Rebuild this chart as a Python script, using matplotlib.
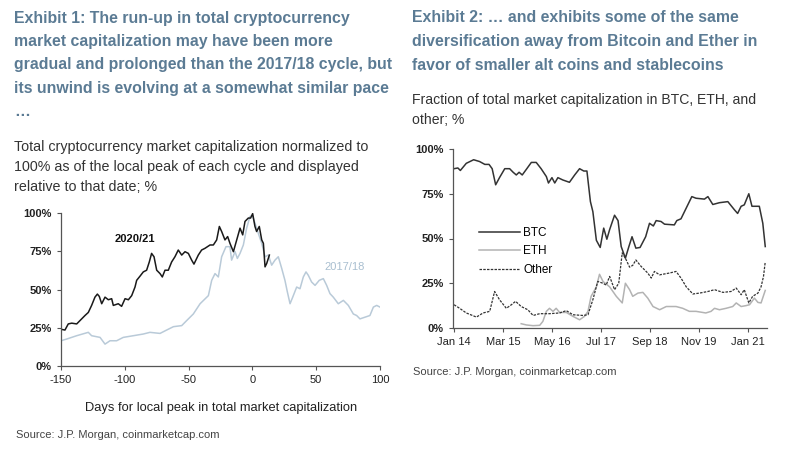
#!/usr/bin/env python3
"""Two-panel crypto market cap exhibit: cycle comparison and dominance shares."""

import matplotlib

matplotlib.use("Agg")
import matplotlib.pyplot as plt

# --- Exhibit 1: days relative to local peak vs normalized market cap (%) ---
days_2021 = [-150, -146.9, -144.3, -141.6, -137.7, -135.1, -131.2, -128.6, -126, -123.4,
             -121.5, -120, -118.1, -115.5, -112.9, -110.3, -109, -105.1, -102.5, -99.8,
             -97.2, -94.6, -92, -90.7, -88.1, -85.5, -82.9, -80.8, -79, -77.1,
             -75, -72.4, -70.6, -68.5, -65.9, -63.3, -60.7, -58.1, -55.4, -52.8,
             -50.2, -47.6, -45.8, -42.4, -39.8, -37.2, -33.2, -30.6, -28, -25.9,
             -24.1, -21.5, -19.4, -17.6, -14.9, -12.3, -9.7, -7.6, -5.8, -3.2,
             -1.4, 0.2, 2, 3.3, 5.4, 7.3, 8.6, 9.9, 11.2, 13.3]
cap_2021 = [24, 23.5, 27.5, 28, 27.5, 29.7, 33, 35, 39.6, 45,
            47, 45.5, 40.7, 45, 43.3, 44, 39.6, 40.7, 39, 44,
            43.3, 46, 51.6, 56, 58.7, 61.5, 62.6, 68, 73.6, 71.4,
            62.6, 60.4, 58.2, 62.6, 62.6, 68, 71.4, 75.8, 72.5, 74.7,
            73.6, 69.2, 66.6, 72.5, 75.8, 76.9, 79.1, 79.1, 82.4, 91.2,
            87.9, 82.4, 84.6, 80.2, 74.7, 82.4, 90.1, 85.7, 94.5, 96.7,
            96.7, 99.6, 91.2, 87.9, 91.2, 82.4, 80.2, 64.8, 67, 72.5]

days_2018 = [-150, -145.6, -137.7, -128.6, -126, -119.4, -115.5, -111.6, -106.4, -101.2,
             -93.3, -85.5, -80.3, -72.4, -67.2, -61.9, -55.4, -51.5, -46.3, -41,
             -34.5, -31.9, -29.3, -26.7, -24.1, -20.7, -17.6, -16.3, -13.6, -11.8,
             -9.7, -7.1, -4.5, -1.9, 0, 2, 4.6, 7.3, 9.9, 12.5,
             15.1, 17.7, 20.3, 23, 25.5, 27.4, 29.5, 31.6, 34.7, 37.3,
             39.9, 42, 43.8, 46.4, 49.1, 52.4, 55.6, 58.2, 60.8, 63.4,
             67.3, 71.3, 75.2, 79.1, 81.7, 84.3, 88.2, 92.1, 94.8, 97.4, 100]
cap_2018 = [16.5, 17.6, 19.8, 22, 19.8, 18.7, 14.3, 16.5, 16.5, 18.7,
            19.8, 20.9, 22, 21.3, 23.5, 25.7, 26.4, 29.7, 34, 40.7,
            46, 56, 60.4, 58.2, 71.4, 78, 78, 69.2, 74.7, 70.3,
            73.6, 79.1, 90.1, 97.8, 98.2, 93.4, 86.8, 80.2, 71.4, 72.5,
            65.9, 69.2, 71.4, 63.7, 56, 48.4, 40.7, 45, 51.6, 50.5,
            58.2, 61.5, 59.3, 54.9, 52.7, 56, 57.1, 52.7, 47.3, 45,
            40.7, 42.9, 39.6, 34, 33, 30.8, 31.9, 33, 38.5, 39.6, 38.5]

# --- Exhibit 2: months since Jan 2014 vs share of total market cap (%) ---
btc_month = [0, 1.1, 1.8, 3.5, 5.6, 7.3, 8.8, 10, 10.9, 11.9,
             13, 14.5, 15.9, 16.9, 17.8, 18.6, 19.5, 20.7, 22.1, 23.5,
             24.9, 26.4, 27, 28, 28.8, 29.7, 31.1, 33, 34.5, 35.9,
             37.1, 38, 39, 39.7, 40.7, 41.8, 42.8, 43.7, 44.5, 45.9,
             46.9, 47.8, 49, 50, 50.9, 52, 53.2, 54.8, 55.9, 57,
             57.8, 59.2, 60.2, 63, 63.7, 64.9, 66.4, 68, 69.2, 71.6,
             72.6, 74, 75.9, 78.3, 80.2, 81.1, 82.1, 83, 84.3, 85.2,
             87.3, 88.3, 89]
btc_share = [89, 89.4, 88, 92, 94, 93, 91.4, 91.4, 89, 80,
             84, 89, 89, 87, 85.5, 87, 85.5, 88.7, 92.5, 92.5,
             89, 84.6, 81, 84, 81, 84, 82.7, 81.4, 85.5, 89,
             87.7, 87.7, 70.6, 65, 49, 45, 55.8, 49.6, 55, 63,
             60, 45.5, 39, 45.5, 51, 44.6, 45, 51, 58.5, 57,
             60, 59.5, 58, 57.6, 60, 61, 67, 73.4, 72.5, 72,
             73.4, 69, 70, 70.6, 66, 64, 68, 68.8, 75, 68,
             68, 58.5, 45.5]

eth_month = [19.2, 20.7, 22.6, 24.5, 25.4, 26.4, 27.3, 28.3, 29.2, 30.2,
             32.1, 34, 35.9, 37.3, 38.3, 39.2, 40.7, 41.6, 42.6, 44.5,
             46.4, 48.1, 49, 50.2, 51.1, 52.6, 54, 55.4, 56.9, 58.8,
             60.7, 63.5, 65.4, 67.3, 69.2, 72, 73.5, 74.5, 75.9, 77.8,
             79.7, 80.7, 82.1, 83.5, 84.5, 85.9, 86.9, 87.8, 89]
eth_share = [2.4, 1.7, 1.3, 1.5, 3.7, 9.3, 11, 9.3, 11, 8.7,
             8.7, 6.5, 4.6, 6.5, 9.3, 17.7, 23, 30, 26, 23,
             17.7, 14, 25, 21.4, 17.7, 19.5, 19.9, 16.7, 12, 10.2,
             12, 12, 11, 9.3, 9.3, 8.4, 9.3, 11, 10.2, 11,
             12, 14, 12, 12.5, 13, 16.7, 14.3, 14, 21]

other_month = [0, 1.6, 3.5, 6.4, 8.3, 10.2, 11.6, 13, 14.95, 16.4,
               17.6, 19.2, 21.1, 22.6, 24.5, 27.3, 30.2, 32.1, 34, 36.9,
               38.3, 39.7, 41.1, 42.6, 43.5, 44.5, 45.9, 47.1, 48.1, 49,
               50.2, 51.1, 52, 53.5, 55.4, 56.4, 57.3, 58.8, 61.6, 63.5,
               64.9, 66.4, 68.3, 70.2, 72.6, 74.5, 76.9, 79.2, 80.7, 82.1,
               83, 84.3, 85.4, 86.9, 87.8, 88.5, 89]
other_share = [13, 11, 8.4, 6.1, 8.4, 9.3, 20.4, 15.8, 11, 13,
               14.9, 12, 10.2, 7, 8, 8, 8.4, 9.7, 7.4, 7,
               7.4, 15.8, 26, 25, 24, 28.8, 21.4, 25, 42, 39,
               34, 35, 38, 34.4, 30.7, 27.9, 31.6, 29.7, 30.7, 31.6,
               27.9, 23, 19, 19.5, 20.4, 21.4, 19.9, 20.4, 22.3, 18.6,
               21.4, 14, 17.7, 19.5, 23, 28.8, 37]

month_ticks = [0, 14, 28, 42, 56, 70, 84]
month_labels = ["Jan 14", "Mar 15", "May 16", "Jul 17", "Sep 18", "Nov 19", "Jan 21"]
pct_ticks = [0, 25, 50, 75, 100]
pct_labels = ["0%", "25%", "50%", "75%", "100%"]

TITLE_C = "#5b7b94"
TEXT_C = "#333333"
FONT = ["Liberation Sans", "DejaVu Sans"]

W, H = 800, 454


def fx(px):
    return px / W


def fy(py):
    return 1 - py / H


def axes_at(fig, x0, y_top, x1, y_bot):
    return fig.add_axes([fx(x0), fy(y_bot), fx(x1) - fx(x0), fy(y_top) - fy(y_bot)])


def style_axes(ax):
    for side in ("top", "right"):
        ax.spines[side].set_visible(False)
    for side in ("left", "bottom"):
        ax.spines[side].set_color("#555555")
        ax.spines[side].set_linewidth(0.9)
    ax.tick_params(direction="out", length=3, width=0.8, color="#555555",
                   labelsize=8, labelcolor="#222222")
    ax.set_yticks(pct_ticks)
    ax.set_yticklabels(pct_labels, fontweight="bold")
    ax.set_ylim(0, 100)


def main() -> None:
    plt.rcParams["font.family"] = FONT
    plt.rcParams["axes.unicode_minus"] = False
    fig = plt.figure(figsize=(8.0, 4.54), dpi=100)

    # titles
    left_title = ["Exhibit 1: The run-up in total cryptocurrency",
                  "market capitalization may have been more",
                  "gradual and prolonged than the 2017/18 cycle, but",
                  "its unwind is evolving at a somewhat similar pace",
                  "\u2026"]
    for i, line in enumerate(left_title):
        fig.text(fx(14), fy(18 + 23.5 * i), line, color=TITLE_C, fontsize=11.4,
                 fontweight="bold", va="center", ha="left")
    right_title = ["Exhibit 2: \u2026 and exhibits some of the same",
                   "diversification away from Bitcoin and Ether in",
                   "favor of smaller alt coins and stablecoins"]
    for i, line in enumerate(right_title):
        fig.text(fx(412), fy(18 + 23.5 * i), line, color=TITLE_C, fontsize=11.4,
                 fontweight="bold", va="center", ha="left")

    left_sub = ["Total cryptocurrency market capitalization normalized to",
                "100% as of the local peak of each cycle and displayed",
                "relative to that date; %"]
    for i, line in enumerate(left_sub):
        fig.text(fx(14), fy(147 + 20 * i), line, color=TEXT_C, fontsize=10.3,
                 va="center", ha="left")
    right_sub = ["Fraction of total market capitalization in BTC, ETH, and",
                 "other; %"]
    for i, line in enumerate(right_sub):
        fig.text(fx(412), fy(100 + 20 * i), line, color=TEXT_C, fontsize=10.1,
                 va="center", ha="left")

    # left chart
    ax1 = axes_at(fig, 61, 213, 380, 366)
    ax1.plot(days_2018, cap_2018, color="#b9cad8", lw=1.1)
    ax1.plot(days_2021, cap_2021, color="#1a1a1a", lw=1.1)
    ax1.set_xlim(-150, 100)
    ax1.set_xticks([-150, -100, -50, 0, 50, 100])
    style_axes(ax1)
    ax1.text(-92, 83, "2020/21", fontsize=8, fontweight="bold", color="#111111",
             ha="center", va="center")
    ax1.text(72, 65, "2017/18", fontsize=8, color="#a9bfd0", ha="center", va="center")
    fig.text(fx(221), fy(408), "Days for local peak in total market capitalization",
             fontsize=9.3, color="#222222", ha="center", va="center")

    # right chart
    ax2 = axes_at(fig, 453, 149, 767, 328)
    ax2.plot(btc_month, btc_share, color="#333333", lw=1.1, label="BTC")
    ax2.plot(eth_month, eth_share, color="#b3b3b3", lw=1.1, label="ETH")
    ax2.plot(other_month, other_share, color="#333333", lw=0.9, ls=(0, (2, 1)),
             label="Other")
    ax2.set_xlim(-0.3, 89.5)
    ax2.set_xticks(month_ticks)
    ax2.set_xticklabels(month_labels)
    style_axes(ax2)
    ax2.legend(loc="upper left", bbox_to_anchor=(fx(479), fy(227)),
               bbox_transform=fig.transFigure, frameon=False, fontsize=8.5,
               handlelength=3.5, handletextpad=0.25, labelspacing=0.55,
               borderpad=0, borderaxespad=0)

    # sources
    fig.text(fx(16), fy(435), "Source: J.P. Morgan, coinmarketcap.com",
             fontsize=8, color="#444444", va="center")
    fig.text(fx(413), fy(372), "Source: J.P. Morgan, coinmarketcap.com",
             fontsize=8, color="#444444", va="center")

    fig.savefig("out.png", dpi=100, facecolor="white")
    plt.close(fig)


if __name__ == "__main__":
    main()
